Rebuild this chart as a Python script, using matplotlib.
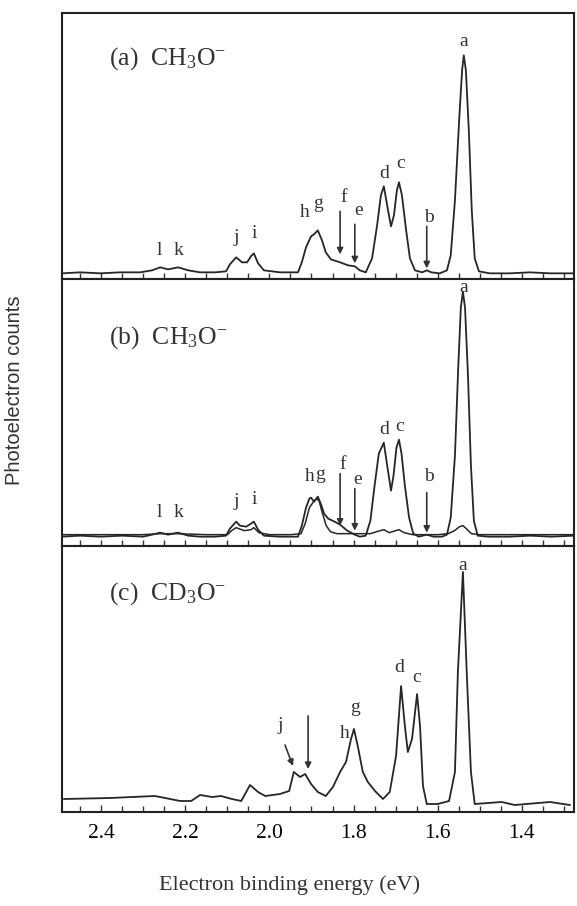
import numpy as np
import matplotlib
matplotlib.use('Agg')
import matplotlib.pyplot as plt
from matplotlib.ticker import MultipleLocator

plt.rcParams['font.family'] = ['Liberation Serif', 'DejaVu Serif']
plt.rcParams['mathtext.fontset'] = 'custom'
plt.rcParams['mathtext.rm'] = 'Liberation Serif'
plt.rcParams['mathtext.it'] = 'Liberation Serif'

# spectra (binding energy in eV, counts in arb. units)
energy_a = [2.493, 2.450, 2.402, 2.355, 2.307, 2.279, 2.260, 2.241, 2.217, 2.193,
            2.165, 2.129, 2.103, 2.094, 2.079, 2.065, 2.053, 2.044, 2.037, 2.027,
            2.013, 1.975, 1.932, 1.923, 1.913, 1.901, 1.894, 1.885, 1.875, 1.866,
            1.854, 1.832, 1.813, 1.797, 1.785, 1.771, 1.756, 1.744, 1.735, 1.728,
            1.718, 1.711, 1.704, 1.697, 1.692, 1.685, 1.675, 1.666, 1.654, 1.637,
            1.626, 1.615, 1.595, 1.578, 1.569, 1.559, 1.549, 1.542, 1.538, 1.533,
            1.526, 1.519, 1.512, 1.502, 1.476, 1.429, 1.381, 1.333, 1.276]
counts_a = [6, 7, 6, 7, 7, 9, 12, 10, 12, 9,
            7, 7, 8, 15, 22, 17, 17, 23, 26, 16,
            9, 7, 7, 17, 32, 43, 45, 49, 39, 27,
            20, 17, 14, 13, 9, 7, 21, 54, 84, 93,
            69, 53, 64, 89, 97, 84, 49, 21, 9, 7,
            9, 7, 6, 9, 24, 79, 159, 209, 224, 209,
            149, 69, 21, 8, 6, 6, 7, 6, 6]

energy_b1 = [2.493, 2.450, 2.400, 2.350, 2.300, 2.279, 2.260, 2.241, 2.217, 2.193,
             2.165, 2.129, 2.103, 2.094, 2.079, 2.070, 2.055, 2.044, 2.037, 2.027,
             2.013, 1.975, 1.932, 1.923, 1.913, 1.905, 1.901, 1.894, 1.885, 1.878,
             1.870, 1.860, 1.845, 1.832, 1.815, 1.797, 1.785, 1.771, 1.760, 1.750,
             1.740, 1.728, 1.720, 1.711, 1.705, 1.698, 1.692, 1.686, 1.678, 1.668,
             1.658, 1.645, 1.626, 1.610, 1.590, 1.578, 1.569, 1.559, 1.551, 1.545,
             1.540, 1.535, 1.528, 1.521, 1.514, 1.505, 1.480, 1.430, 1.380, 1.330,
             1.276]
counts_b1 = [9, 10, 9, 10, 9, 11, 13, 11, 13, 10,
             9, 9, 10, 17, 24, 20, 19, 22, 24, 16,
             10, 9, 9, 20, 38, 47, 48, 44, 49, 42,
             32, 27, 24, 21, 15, 11, 9, 10, 25, 60,
             92, 103, 80, 55, 70, 98, 106, 92, 60, 28,
             12, 9, 11, 9, 9, 11, 28, 90, 180, 238,
             254, 238, 170, 80, 25, 10, 9, 9, 10, 9,
             10]

energy_b2 = [2.493, 2.400, 2.300, 2.260, 2.220, 2.150, 2.100, 2.090, 2.079, 2.060,
             2.044, 2.037, 2.025, 2.000, 1.950, 1.925, 1.915, 1.905, 1.895, 1.888,
             1.882, 1.875, 1.865, 1.855, 1.840, 1.820, 1.800, 1.780, 1.760, 1.745,
             1.728, 1.715, 1.700, 1.692, 1.680, 1.660, 1.630, 1.600, 1.575, 1.560,
             1.548, 1.540, 1.532, 1.520, 1.500, 1.450, 1.400, 1.350, 1.276]
counts_b2 = [11, 11, 11, 12, 12, 11, 11, 15, 18, 15,
             16, 18, 13, 11, 11, 12, 22, 38, 44, 47,
             45, 34, 20, 14, 12, 12, 12, 12, 12, 14,
             16, 13, 15, 16, 13, 11, 11, 11, 12, 15,
             19, 20, 17, 12, 11, 11, 11, 11, 11]

energy_c = [2.488, 2.379, 2.272, 2.212, 2.186, 2.165, 2.136, 2.115, 2.089, 2.067,
            2.046, 2.027, 2.010, 1.975, 1.953, 1.942, 1.927, 1.915, 1.901, 1.885,
            1.866, 1.849, 1.832, 1.818, 1.806, 1.799, 1.790, 1.778, 1.766, 1.749,
            1.730, 1.714, 1.699, 1.687, 1.678, 1.671, 1.661, 1.649, 1.642, 1.635,
            1.626, 1.600, 1.573, 1.559, 1.552, 1.540, 1.531, 1.521, 1.512, 1.448,
            1.417, 1.333, 1.286]
counts_c = [13, 14, 16, 11, 11, 17, 15, 16, 13, 11,
            27, 20, 16, 18, 21, 40, 35, 38, 28, 20,
            16, 25, 40, 50, 73, 83, 66, 40, 30, 21,
            13, 20, 56, 126, 86, 60, 73, 118, 86, 26,
            8, 8, 11, 40, 140, 240, 140, 40, 8, 10,
            7, 10, 7]

panel_titles = [r'(a)  CH$_3$O$^{-}$', r'(b)  CH$_3$O$^{-}$', r'(c)  CD$_3$O$^{-}$']
tick_values = [2.4, 2.2, 2.0, 1.8, 1.6, 1.4]
tick_labels = ['2.4', '2.2', '2.0', '1.8', '1.6', '1.4']

# peak letters: (label, energy, counts)
letters_a = [('a', 1.538, 238), ('d', 1.728, 106), ('c', 1.687, 116), ('h', 1.915, 67),
             ('g', 1.884, 76), ('f', 1.823, 82), ('e', 1.787, 69), ('b', 1.621, 62),
             ('j', 2.079, 42), ('i', 2.037, 46), ('l', 2.262, 29), ('k', 2.217, 29)]
letters_b = [('a', 1.538, 258), ('d', 1.728, 116), ('c', 1.690, 119), ('h', 1.905, 69),
             ('g', 1.880, 71), ('f', 1.825, 81), ('e', 1.790, 66), ('b', 1.621, 69),
             ('j', 2.079, 44), ('i', 2.037, 46), ('l', 2.262, 33), ('k', 2.217, 33)]
letters_c = [('a', 1.540, 247), ('d', 1.692, 144), ('c', 1.650, 135), ('g', 1.797, 104),
             ('h', 1.822, 79), ('j', 1.975, 87)]
# arrows: (energy tail, counts tail, energy tip, counts tip)
arrows_a = [(1.832, 68, 1.832, 25), (1.797, 55, 1.797, 16), (1.626, 53, 1.626, 11)]
arrows_b = [(1.832, 72, 1.832, 20), (1.797, 57, 1.797, 15), (1.626, 53, 1.626, 13)]
arrows_c = [(1.963, 67, 1.944, 46), (1.908, 96, 1.908, 43)]

W, H = 577, 906
fig = plt.figure(figsize=(W / 100, H / 100), dpi=100)
left, right, top, bottom = 62, 574, 13, 812
ph = (bottom - top) / 3
axes = []
for k in range(3):
    y0 = 1 - (top + (k + 1) * ph) / H
    ax = fig.add_axes([left / W, y0, (right - left) / W, ph / H])
    axes.append(ax)

line_col = '#262626'
axes[0].plot(energy_a, counts_a, color=line_col, lw=1.3)
axes[1].plot(energy_b2, counts_b2, color=line_col, lw=1.1)
axes[1].plot(energy_b1, counts_b1, color=line_col, lw=1.3)
axes[2].plot(energy_c, counts_c, color=line_col, lw=1.3)

all_letters = [letters_a, letters_b, letters_c]
all_arrows = [arrows_a, arrows_b, arrows_c]
title_y = [0.83, 0.78, 0.82]

for k, ax in enumerate(axes):
    ax.set_xlim(2.493, 1.276)
    ax.set_ylim(0, ph)
    ax.set_yticks([])
    ax.xaxis.set_major_locator(MultipleLocator(0.1))
    ax.xaxis.set_minor_locator(MultipleLocator(0.05))
    ax.tick_params(axis='x', which='both', direction='in', top=False, length=4,
                   width=1.0, color='#333333', labelsize=15.5, pad=9)
    for s in ax.spines.values():
        s.set_linewidth(1.5)
        s.set_color('#222222')
    if k < 2:
        ax.tick_params(axis='x', labelbottom=False)
    else:
        ax.set_xticks(tick_values)
        ax.set_xticklabels(tick_labels)
        ax.xaxis.set_minor_locator(MultipleLocator(0.05))
        ax.tick_params(axis='x', which='major', length=5)
    ax.text(0.092, title_y[k], panel_titles[k], transform=ax.transAxes,
            fontsize=18.5, color='#333333', va='center', ha='left')
    for lab, e, c in all_letters[k]:
        ax.text(e, c, lab, fontsize=14, color='#333333', ha='center', va='center',
                clip_on=False)
    for e0, c0, e1, c1 in all_arrows[k]:
        ax.annotate('', xy=(e1, c1), xytext=(e0, c0),
                    arrowprops=dict(arrowstyle='-|>', color='#333333', lw=1.2,
                                    mutation_scale=9, shrinkA=0, shrinkB=0))

fig.text(290 / W, 1 - 885 / H, 'Electron binding energy (eV)', fontsize=16,
         ha='center', va='center', color='#333333')
fig.text(15 / W, 1 - 390 / H, 'Photoelectron counts', fontsize=14.5, rotation=90,
         ha='center', va='center', color='#333333', family='Liberation Sans')

fig.savefig('out.png', dpi=100)
